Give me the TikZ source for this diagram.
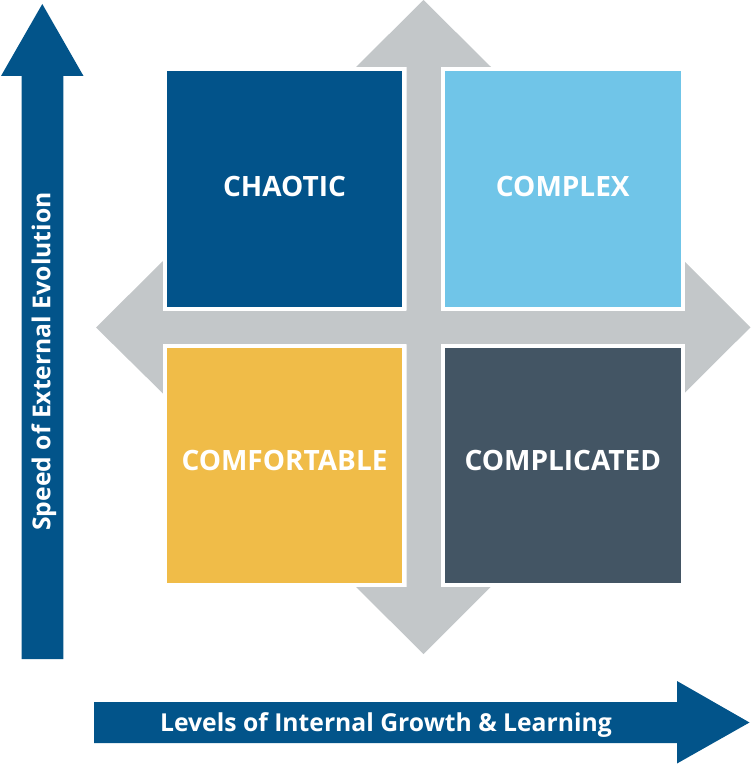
\documentclass[tikz,border=0pt]{standalone}
\usepackage{fontspec}
\setmainfont{Open Sans}
\definecolor{axisblue}{HTML}{02548A}
\definecolor{crossgray}{HTML}{C3C7C9}
\definecolor{chaotic}{HTML}{02538A}
\definecolor{complex}{HTML}{70C5E8}
\definecolor{comfort}{HTML}{F0BC48}
\definecolor{complic}{HTML}{435564}
\begin{document}
\begin{tikzpicture}[x=1pt,y=-1pt,
  quad/.style={minimum width=239.5pt,minimum height=239.5pt,inner sep=0pt,
    draw=white,line width=4pt},
  quadtext/.style={text=white,inner sep=0pt,font=\bfseries\fontsize{28}{32}\selectfont},
  axislabel/.style={text=white,font=\bfseries\fontsize{24.7}{28}\selectfont,inner sep=0pt}]
\useasboundingbox (0,0) rectangle (751,765);
% vertical axis arrow
\fill[axisblue] (21.5,659) -- (21.5,76) -- (1,76) -- (42.3,4) -- (83.5,76) -- (63.3,76) -- (63.3,659) -- cycle;
% horizontal axis arrow
\fill[axisblue] (94,702) -- (677,702) -- (677,681) -- (749.5,722.5) -- (677,763.5) -- (677,743) -- (94,743) -- cycle;
% gray cross
\fill[crossgray] (406.5,310.5) -- (406.5,67) -- (356,67) -- (423.5,0) -- (491,67) -- (441,67) -- (441,310.5)
  -- (684,310.5) -- (684,261) -- (750.5,327.3) -- (684,393.5) -- (684,344) -- (441,344)
  -- (441,587) -- (490.5,587) -- (423.5,654) -- (356,587) -- (406.5,587) -- (406.5,344)
  -- (163,344) -- (163,393.5) -- (96,327.5) -- (163,261) -- (163,310.5) -- cycle;
% quadrants
\node[quad,fill=chaotic] (chaotic) at (284.5,188.8) {};
\node[quad,fill=complex] (complex) at (562.8,188.8) {};
\node[quad,fill=comfort] (comfort) at (284.5,465.5) {};
\node[quad,fill=complic] (complic) at (562.8,465.5) {};
\node[quadtext] (tchaotic) at ([yshift=2.8pt]chaotic.center) {CHAOTIC};
\node[quadtext] (tcomplex) at ([yshift=2.8pt]complex.center) {COMPLEX};
\node[quadtext] (tcomfort) at ([yshift=5pt]comfort.center) {COMFORTABLE};
\node[quadtext] (tcomplic) at ([yshift=5pt]complic.center) {COMPLICATED};
% axis labels
\node[axislabel,rotate=90] (ylab) at (44,361.5) {Speed of External Evolution};
\node[axislabel] (xlab) at (386,725) {Levels of Internal Growth \& Learning};
\end{tikzpicture}
\end{document}
